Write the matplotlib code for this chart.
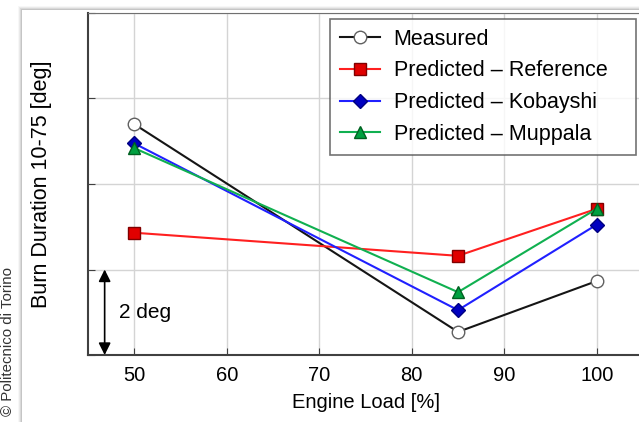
import matplotlib
matplotlib.use("Agg")
import matplotlib.pyplot as plt
from matplotlib.patches import Rectangle

plt.rcParams['font.family'] = ['Liberation Sans', 'DejaVu Sans']

load = [50, 85, 100]
measured = [5.40, 0.54, 1.73]
pred_reference = [2.86, 2.32, 3.42]
pred_kobayshi = [4.95, 1.05, 3.05]
pred_muppala = [4.84, 1.47, 3.42]
xticks = [50, 60, 70, 80, 90, 100]
yticks = [0, 2, 4, 6, 8]

W, H = 639, 422
fig = plt.figure(figsize=(W / 100, H / 100), dpi=100)
fig.patch.set_facecolor('white')

# soft shadow frame
for i, a in enumerate([0.03, 0.05, 0.07, 0.09]):
    fig.patches.append(Rectangle(((18 + i) / W, 0), 1.2, (H - 6 - i) / H,
                                 transform=fig.transFigure, facecolor='#000000',
                                 alpha=a, edgecolor='none', zorder=-3))
fig.patches.append(Rectangle((22 / W, 0), 1.2, (H - 10) / H, transform=fig.transFigure,
                             facecolor='white', edgecolor='none', zorder=-2))

ax = fig.add_axes([88 / W, (H - 355) / H, (643 - 88) / W, (355 - 13) / H])
ax.set_xlim(45, 105)
ax.set_ylim(0, 8)
ax.set_xticks(xticks)
ax.set_yticks(yticks)
ax.set_yticklabels([])
ax.grid(True, color='#d4d4d4', linewidth=1)
ax.set_axisbelow(True)
for s in ['left', 'bottom']:
    ax.spines[s].set_color('#404040')
    ax.spines[s].set_linewidth(1.5)
ax.spines['top'].set_color('#707070')
ax.spines['right'].set_visible(False)
ax.tick_params(direction='in', length=5, color='#404040', labelsize=14.5, pad=8)

ax.plot(load, measured, color='#151515', lw=1.5, marker='o', ms=9,
        mfc='white', mec='#606060', label='Measured', zorder=3)
ax.plot(load, pred_reference, color='#ff2020', lw=1.5, marker='s', ms=9,
        mfc='#e00000', mec='#800000', label='Predicted \u2013 Reference', zorder=3)
ax.plot(load, pred_kobayshi, color='#2020ff', lw=1.5, marker='D', ms=7,
        mfc='#0000c0', mec='#000080', label='Predicted \u2013 Kobayshi', zorder=3)
ax.plot(load, pred_muppala, color='#10b050', lw=1.5, marker='^', ms=9,
        mfc='#00a040', mec='#006020', label='Predicted \u2013 Muppala', zorder=4)

ax.set_xlabel('Engine Load [%]', fontsize=14.5, labelpad=6)
ax.set_ylabel('Burn Duration 10-75 [deg]', fontsize=15.5, labelpad=18)

ax.annotate('', xy=(46.8, 0), xytext=(46.8, 2),
            arrowprops=dict(arrowstyle='<|-|>', color='black', lw=1.2,
                            mutation_scale=18, shrinkA=0, shrinkB=0))
ax.text(48.4, 1.0, '2 deg', fontsize=15, va='center', ha='left')

x0 = (330 - 88) / (643 - 88)
wl = (636 - 330) / (643 - 88)
leg = ax.legend(loc='upper left', bbox_to_anchor=(x0, 0, wl, 1 - 6 / 342), mode='expand',
                borderaxespad=0, fontsize=15.5, frameon=True, fancybox=False,
                edgecolor='#505050', handlelength=1.85, borderpad=0.45,
                labelspacing=0.5, handletextpad=0.65)
leg.get_frame().set_linewidth(1.2)

fig.text(8 / W, (H - 341) / H, '\u00a9 Politecnico di Torino', rotation=90, fontsize=10.8,
         color='#333333', ha='center', va='center')

fig.savefig('out.png', dpi=100)
